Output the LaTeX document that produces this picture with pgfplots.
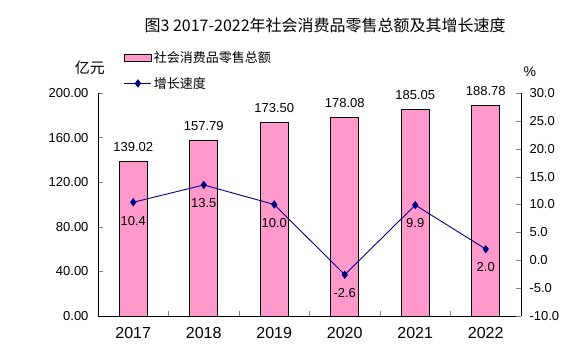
\documentclass[border=0pt]{standalone}
\usepackage{pgfplots}
\pgfplotsset{compat=1.18}
\usepackage{fontspec}
\setmainfont{Liberation Sans}
\newfontfamily\cjk{Noto Sans CJK SC}
\definecolor{barpink}{HTML}{FF99CC}
\definecolor{navyline}{HTML}{000080}
\begin{document}
\begin{tikzpicture}[x=1pt,y=1pt]
\useasboundingbox (0,0) rectangle (582,352);
\begin{axis}[
  at={(98pt,36pt)}, anchor=south west,
  scale only axis, width=423pt, height=223pt,
  xmin=-0.5, xmax=5.5, ymin=0, ymax=200,
  axis x line*=bottom, axis y line*=left,
  tick align=inside,
  ytick={0,40,...,200},
  major tick length=5pt,
  xtick={-0.5,0.5,...,5.5}, x tick label as interval,
  xticklabels={2017,2018,2019,2020,2021,2022},
  x tick label style={font=\fontsize{16}{18}\selectfont, yshift=-8pt},
  y tick label style={font=\fontsize{13}{15}\selectfont, xshift=-6pt,
    /pgf/number format/fixed, /pgf/number format/fixed zerofill, /pgf/number format/precision=2},
  /pgf/number format/assume math mode=true,
  clip=false,
]
\addplot[ybar, bar width=28pt, fill=barpink, draw=black, line width=0.8pt,
  nodes near coords={\pgfmathprintnumber[fixed,fixed zerofill,precision=2]{\pgfplotspointmeta}},
  every node near coord/.append style={font=\fontsize{13}{15}\selectfont, text=black, yshift=6pt}]
  coordinates {(0,139.02) (1,157.79) (2,173.50) (3,178.08) (4,185.05) (5,188.78)};
\node[font=\cjk\fontsize{16}{18}\selectfont] at (axis description cs:0.537,1.305) {图3 2017-2022年社会消费品零售总额及其增长速度};
\node[font=\cjk\fontsize{15}{17}\selectfont] at (axis description cs:-0.019,1.112) {亿元};
\node[font=\fontsize{14}{16}\selectfont] at (axis description cs:1.021,1.094) {\%};
\end{axis}
\begin{axis}[
  at={(98pt,36pt)}, anchor=south west,
  scale only axis, width=423pt, height=223pt,
  xmin=-0.5, xmax=5.5, ymin=-10, ymax=30,
  axis x line=none, axis y line*=right,
  tick align=inside,
  major tick length=5pt,
  ytick={-10,-5,...,30},
  y tick label style={font=\fontsize{13}{15}\selectfont, xshift=5pt,
    /pgf/number format/fixed, /pgf/number format/fixed zerofill, /pgf/number format/precision=1},
  /pgf/number format/assume math mode=true,
  clip=false,
  legend style={at={(0.061,1.195)}, anchor=north west, draw=none, fill=none,
    font=\cjk\fontsize{13}{15}\selectfont, row sep=9pt, inner sep=0pt},
  legend cell align=left,
]
\addlegendimage{legend image code/.code={\draw[fill=barpink,draw=black,line width=0.8pt] (0pt,-3.5pt) rectangle (27pt,3.5pt);}}
\addlegendentry{社会消费品零售总额}
\addplot[navyline, line width=0.9pt, mark=diamond*, mark size=3.5pt,
  legend image code/.code={\draw[navyline, line width=0.9pt, mark=diamond*, mark size=3.5pt, mark repeat=2,mark phase=2] plot coordinates {(0pt,0pt) (13.5pt,0pt) (27pt,0pt)};},
  nodes near coords={\pgfmathprintnumber[fixed,fixed zerofill,precision=1]{\pgfplotspointmeta}},
  every node near coord/.append style={font=\fontsize{13}{15}\selectfont, text=black, anchor=north, yshift=-10pt}]
  coordinates {(0,10.4) (1,13.5) (2,10.0) (3,-2.6) (4,9.9) (5,2.0)};
\addlegendentry{增长速度}
\end{axis}
\end{tikzpicture}
\end{document}
